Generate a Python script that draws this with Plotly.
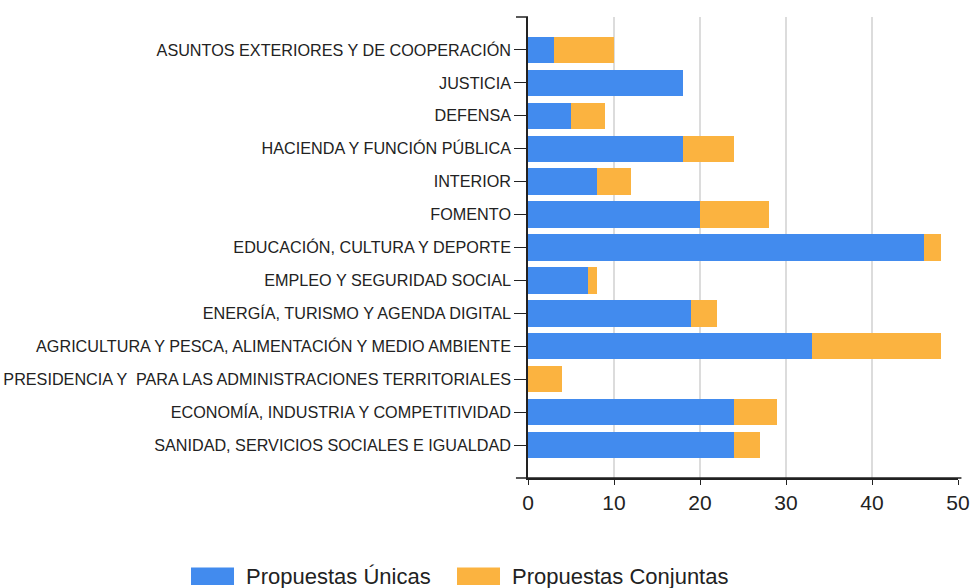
import plotly.graph_objects as go

categories = [
    "ASUNTOS EXTERIORES Y DE COOPERACIÓN",
    "JUSTICIA",
    "DEFENSA",
    "HACIENDA Y FUNCIÓN PÚBLICA",
    "INTERIOR",
    "FOMENTO",
    "EDUCACIÓN, CULTURA Y DEPORTE",
    "EMPLEO Y SEGURIDAD SOCIAL",
    "ENERGÍA, TURISMO Y AGENDA DIGITAL",
    "AGRICULTURA Y PESCA, ALIMENTACIÓN Y MEDIO AMBIENTE",
    "PRESIDENCIA Y  PARA LAS ADMINISTRACIONES TERRITORIALES",
    "ECONOMÍA, INDUSTRIA Y COMPETITIVIDAD",
    "SANIDAD, SERVICIOS SOCIALES E IGUALDAD",
]
unicas = [3, 18, 5, 18, 8, 20, 46, 7, 19, 33, 0, 24, 24]
conjuntas = [7, 0, 4, 6, 4, 8, 2, 1, 3, 15, 4, 5, 3]
x_ticks = [0, 10, 20, 30, 40, 50]
series_names = ["Propuestas Únicas", "Propuestas Conjuntas"]

BLUE = "#428BEE"
ORANGE = "#FBB340"
FONT = "Liberation Sans, Arial, sans-serif"
INK = "#222222"

fig = go.Figure()
fig.add_trace(go.Bar(y=categories, x=unicas, orientation="h", name=series_names[0],
                     marker=dict(color=BLUE, line=dict(width=0)), showlegend=False))
fig.add_trace(go.Bar(y=categories, x=conjuntas, orientation="h", name=series_names[1],
                     marker=dict(color=ORANGE, line=dict(width=0)), showlegend=False))

fig.update_layout(
    width=975, height=588,
    barmode="stack", bargap=0.2,
    plot_bgcolor="white", paper_bgcolor="white",
    margin=dict(l=528, r=17, t=17, b=110),
    font=dict(family=FONT, color=INK),
    xaxis=dict(range=[0, 50], tickvals=x_ticks, showgrid=True, gridcolor="#dcdcdc", gridwidth=1.5,
               zeroline=False, showline=True, linecolor=INK, linewidth=1.5, automargin=False,
               ticks="outside", ticklen=5, tickcolor=INK, tickfont=dict(size=21, color=INK)),
    yaxis=dict(categoryorder="array", categoryarray=categories[::-1], range=[-1, 13],
               showline=True, linecolor=INK, linewidth=1.5, showgrid=False, automargin=False,
               ticks="outside", ticklen=12, tickcolor=INK,
               tickfont=dict(size=16.2, color=INK)),
)

# top tick on the y axis and left extension of the x axis line
fig.add_shape(type="line", xref="paper", yref="paper", x0=-0.028, x1=0, y0=1, y1=1,
              line=dict(color=INK, width=1.5))
fig.add_shape(type="line", xref="paper", yref="paper", x0=-0.028, x1=1.008, y0=0, y1=0,
              line=dict(color=INK, width=1.5))

# custom legend
legend_items = [(-0.7837, BLUE, series_names[0]), (-0.1651, ORANGE, series_names[1])]
for x0, col, name in legend_items:
    fig.add_shape(type="rect", xref="paper", yref="paper", x0=x0, x1=x0 + 0.1, y0=-0.1941, y1=-0.2321,
                  line=dict(width=0), fillcolor=col)
    fig.add_annotation(xref="paper", yref="paper", x=x0 + 0.124, y=-0.2126, text=name,
                       showarrow=False, xanchor="left", yanchor="middle",
                       font=dict(size=22, color=INK, family=FONT))

fig.write_html("out.html", config={"displayModeBar": False},
               post_script="document.body.style.margin='0';document.body.style.overflow='hidden';")
